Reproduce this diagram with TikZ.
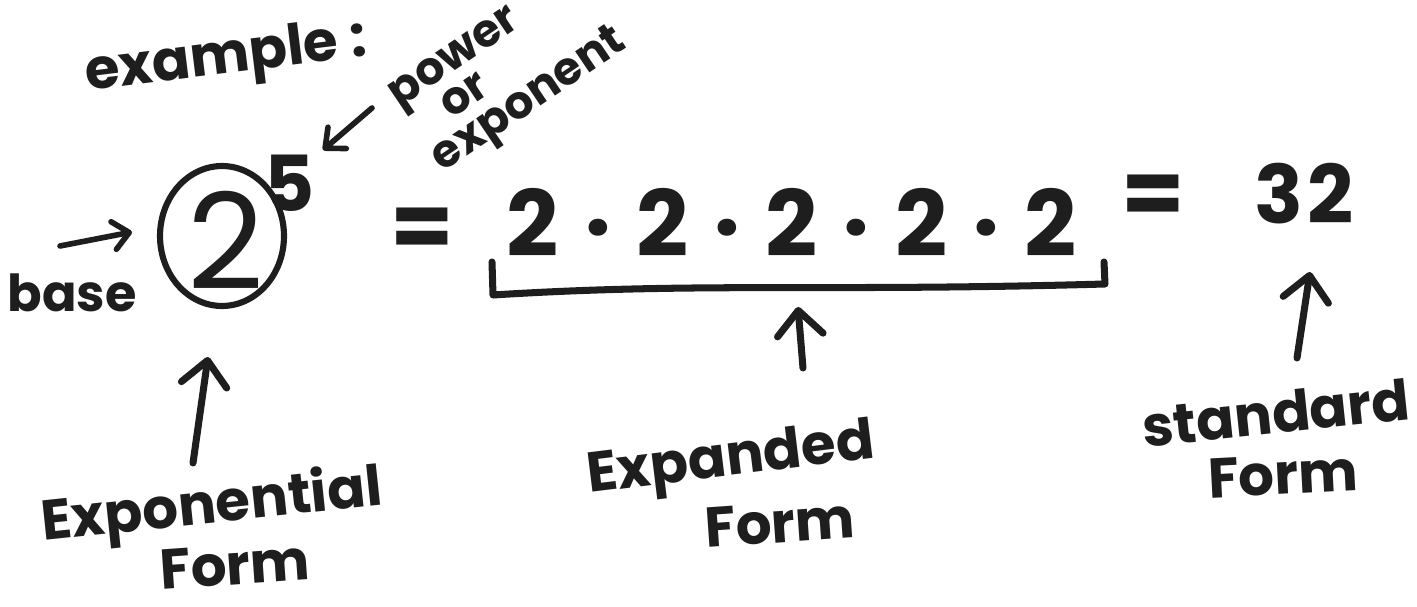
\documentclass[tikz,border=0pt]{standalone}
\usepackage{fontspec}
\setmainfont{Poppins}
\usetikzlibrary{arrows.meta,shapes.geometric}
\definecolor{ink}{HTML}{1E1E1E}
\begin{document}
\begin{tikzpicture}[x=0.02cm,y=-0.02cm,
  lbl/.style={text=ink, inner sep=0pt, font=\fontsize{32}{36}\selectfont\bfseries},
  small/.style={text=ink, inner sep=0pt, font=\fontsize{26}{26}\selectfont\bfseries},
  big/.style={text=ink, inner sep=0pt, font=\fontsize{52}{52}\selectfont\bfseries},
  harrow/.style={draw=ink, line width=4pt, line cap=round,
     -{Straight Barb[length=14pt,width=26pt,line width=4pt,round]}},
  sarrow/.style={draw=ink, line width=3.2pt, line cap=round,
     -{Straight Barb[length=9pt,width=16pt,line width=3.2pt,round]}}
]
\useasboundingbox (0,0) rectangle (1417,607);

% top labels
\node[lbl, rotate=7] (example) at (226,60) {example :};
\node[small, rotate=34, align=left] (power) at (510,72) {power\\[-4pt]\hspace{0.8em}or\\[-4pt]exponent};

% circled base with exponent
\node[text=ink, inner sep=0pt, font=\fontsize{76}{76}\selectfont] (base2) at (226,240) {2};
\node[draw=ink, line width=3.5pt, ellipse, minimum width=2.48cm, minimum height=2.8cm] (circ) at (222,236) {};
\node[text=ink, inner sep=0pt, font=\fontsize{44}{44}\selectfont\bfseries] (five) at (290,183) {5};
\node[lbl, font=\fontsize{29}{30}\selectfont\bfseries] (base) at (72,293) {base};

% equation
\node[big] (eq1) at (422,233) {=};
\node[big] (expanded) at (792,222) {2\hspace{0.5cm}·\hspace{0.5cm}2\hspace{0.5cm}·\hspace{0.5cm}2\hspace{0.5cm}·\hspace{0.5cm}2\hspace{0.5cm}·\hspace{0.5cm}2};
\node[big] (eq2) at (1153,200) {=};
\node[text=ink, inner sep=0pt, font=\fontsize{46}{46}\selectfont\bfseries] (std) at (1304,194) {3\hspace{2pt}2};

% bottom labels
\node[lbl, rotate=6] (expl1) at (212,508) {Exponential};
\node[lbl, rotate=4] (expl2) at (235,565) {Form};
\node[lbl, rotate=7] (exd1) at (731,462) {Expanded};
\node[lbl, rotate=4] (exd2) at (780,523) {Form};
\node[lbl, rotate=6] (std1) at (1276,413) {standard};
\node[lbl, rotate=3] (std2) at (1283,475) {Form};

% bracket under expanded form
\coordinate (brA) at (492,262);
\coordinate (brB) at (493,295);
\coordinate (brC) at (1105,284);
\coordinate (brD) at (1104,262);
\draw[draw=ink, line width=4pt, line join=round, line cap=round]
  (brA) -- (brB) .. controls (700,282) and (820,292) .. (brC) -- (brD);

% arrow endpoints
\coordinate (pA) at (372,108);
\coordinate (pB) at (323,150);
\coordinate (bA) at (60,246);
\coordinate (bB) at (132,232);
\coordinate (eA) at (193,463);
\coordinate (eB) at (208,357);
\coordinate (xA) at (803,368);
\coordinate (xB) at (798,307);
\coordinate (sA) at (1297,358);
\coordinate (sB) at (1310,272);

\draw[sarrow] (pA) -- (pB);
\draw[sarrow] (bA) -- (bB);
\draw[harrow] (eA) -- (eB);
\draw[harrow] (xA) -- (xB);
\draw[harrow] (sA) -- (sB);
\end{tikzpicture}
\end{document}
